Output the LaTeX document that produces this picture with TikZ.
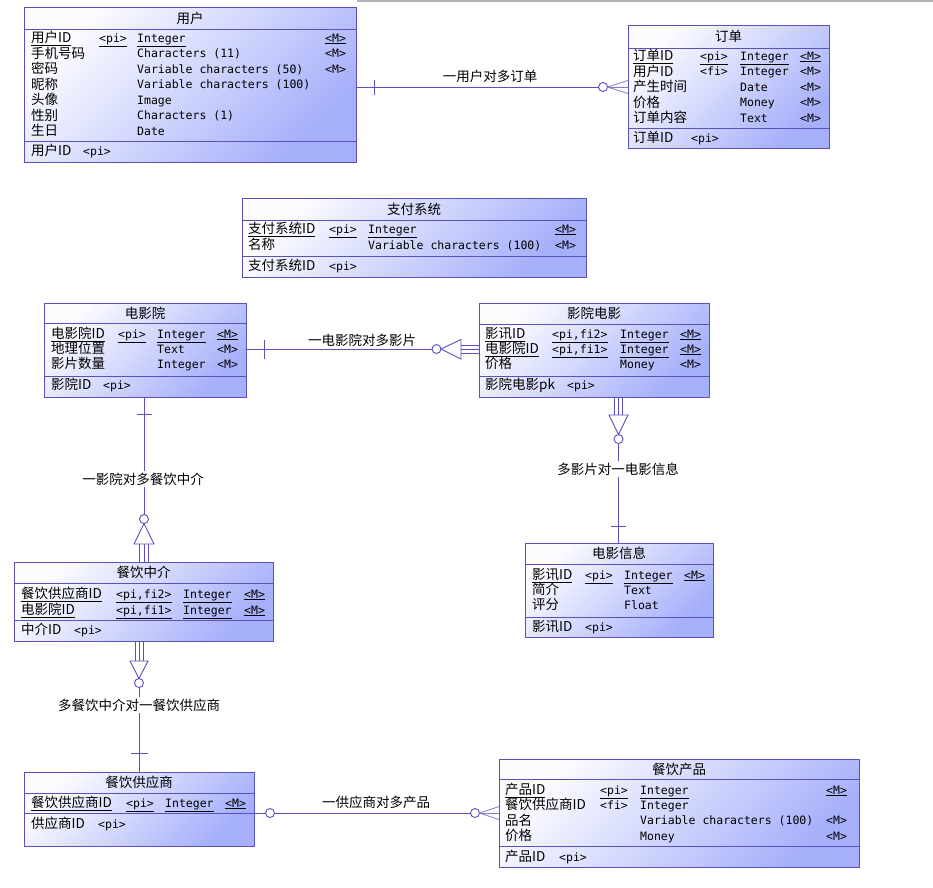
\documentclass[tikz,border=0pt]{standalone}
\usepackage{fontspec}
\newfontfamily\cjkf{Noto Sans CJK SC}
\newfontfamily\monof{DejaVu Sans Mono}
\usetikzlibrary{fit,calc}
\definecolor{bordc}{RGB}{90,80,190}
\definecolor{shA}{RGB}{252,252,255}
\definecolor{shB}{RGB}{165,175,250}
\tikzset{
  entity/.style={draw=bordc, line width=0.9pt, top color=shA, bottom color=shB, shading angle=45, inner sep=0pt, outer sep=0pt},
  sepline/.style={draw=bordc, line width=0.9pt},
  cn/.style={anchor=west, inner sep=0pt, text height=9.5pt, text depth=0pt, font=\cjkf\fontsize{13.5}{13.5}\selectfont},
  mk/.style={anchor=west, inner sep=0pt, text height=8.5pt, text depth=0pt, font=\monof\fontsize{11.5}{11.5}\selectfont},
  ttl/.style={anchor=center, inner sep=0pt, font=\cjkf\fontsize{13.5}{13.5}\selectfont},
  conn/.style={draw=bordc, line width=0.9pt},
  crow/.style={draw=bordc!75, line width=0.8pt},
  circ/.style={circle, draw=bordc, line width=0.9pt, fill=white, minimum size=9pt, inner sep=0pt, outer sep=0pt},
  lbl/.style={fill=white, inner sep=1.5pt, font=\cjkf\fontsize{13.5}{13.5}\selectfont},
}
\newcommand\uln[1]{\underline{#1}}
\newcommand\entity[8]{%
  \coordinate (#1-nw) at (#2,#3);
  \coordinate (#1-se) at (#4,#5);
  \node[entity, fit=(#1-nw)(#1-se)] (#1) {};
  \draw[sepline] (#1.west |- 0,#6) -- (#1.east |- 0,#6);
  \draw[sepline] (#1.west |- 0,#7) -- (#1.east |- 0,#7);
  \node[ttl] (#1-title) at ($(#1-nw)!0.5!(#4,#6)$) {#8};
}
\newcommand\setcols[4]{\def\cxn{#1}\def\cxk{#2}\def\cxt{#3}\def\cxm{#4}}
\newcommand\attrrow[6]{%
  \node[cn] (#1-n) at (\cxn,#2) {#3};
  \ifx\relax#4\relax\else\node[mk] (#1-k) at (\cxk,#2) {#4};\fi
  \ifx\relax#5\relax\else\node[mk] (#1-t) at (\cxt,#2) {#5};\fi
  \ifx\relax#6\relax\else\node[mk] (#1-m) at (\cxm,#2) {#6};\fi
}
\newcommand\keyrow[5]{%
  \node[cn] (#1-kn) at (#2,#4) {#5};
  \node[mk] (#1-kp) at (#3,#4) {<pi>};
}
\begin{document}
\begin{tikzpicture}[x=1pt,y=-1pt]
\useasboundingbox (0,0) rectangle (933,887);
\fill[gray!60] (357,0) rectangle (933,1.5);

% 用户
\entity{user}{24}{7}{356}{162}{29}{141}{用户}
\setcols{31}{99}{137}{325}
\attrrow{u1}{38}{\uln{用户ID}}{\uln{<pi>}}{\uln{Integer}}{\uln{<M>}}
\attrrow{u2}{53.5}{手机号码}{}{Characters (11)}{<M>}
\attrrow{u3}{69}{密码}{}{Variable characters (50)}{<M>}
\attrrow{u4}{84.5}{昵称}{}{Variable characters (100)}{}
\attrrow{u5}{100}{头像}{}{Image}{}
\attrrow{u6}{115.5}{性别}{}{Characters (1)}{}
\attrrow{u7}{131}{生日}{}{Date}{}
\keyrow{user}{31}{83}{151}{用户ID}

% 订单
\entity{order}{628}{25}{829}{148}{48}{128}{订单}
\setcols{633}{700}{740}{800}
\attrrow{o1}{56}{\uln{订单ID}}{\uln{<pi>}}{\uln{Integer}}{\uln{<M>}}
\attrrow{o2}{71.5}{用户ID}{<fi>}{Integer}{<M>}
\attrrow{o3}{87}{产生时间}{}{Date}{<M>}
\attrrow{o4}{102.5}{价格}{}{Money}{<M>}
\attrrow{o5}{118}{订单内容}{}{Text}{<M>}
\keyrow{order}{633}{691}{138}{订单ID}

% 支付系统
\entity{pay}{242}{198}{586}{277}{220}{256}{支付系统}
\setcols{248}{329}{368}{555}
\attrrow{p1}{229}{\uln{支付系统ID}}{\uln{<pi>}}{\uln{Integer}}{\uln{<M>}}
\attrrow{p2}{245}{名称}{}{Variable characters (100)}{<M>}
\keyrow{pay}{248}{329}{266}{支付系统ID}

% 电影院
\entity{cinema}{44}{303}{246}{397}{323}{376}{电影院}
\setcols{51}{118}{157}{217}
\attrrow{c1}{334}{\uln{电影院ID}}{\uln{<pi>}}{\uln{Integer}}{\uln{<M>}}
\attrrow{c2}{349}{地理位置}{}{Text}{<M>}
\attrrow{c3}{364}{影片数量}{}{Integer}{<M>}
\keyrow{cinema}{51}{103}{385}{影院ID}

% 影院电影
\entity{cm}{479}{303}{709}{397}{324}{376}{影院电影}
\setcols{485}{552}{620}{680}
\attrrow{m1}{334}{\uln{影讯ID}}{\uln{<pi,fi2>}}{\uln{Integer}}{\uln{<M>}}
\attrrow{m2}{349}{\uln{电影院ID}}{\uln{<pi,fi1>}}{\uln{Integer}}{\uln{<M>}}
\attrrow{m3}{364}{价格}{}{Money}{<M>}
\keyrow{cm}{485}{567}{385}{影院电影pk}

% 电影信息
\entity{minfo}{525}{543}{713}{637}{564}{617}{电影信息}
\setcols{532}{585}{624}{684}
\attrrow{i1}{575}{\uln{影讯ID}}{\uln{<pi>}}{\uln{Integer}}{\uln{<M>}}
\attrrow{i2}{590}{简介}{}{Text}{}
\attrrow{i3}{605}{评分}{}{Float}{}
\keyrow{minfo}{532}{585}{627}{影讯ID}

% 餐饮中介
\entity{agent}{14}{562}{273}{641}{583}{620}{餐饮中介}
\setcols{21}{116}{183}{244}
\attrrow{a1}{594}{\uln{餐饮供应商ID}}{\uln{<pi,fi2>}}{\uln{Integer}}{\uln{<M>}}
\attrrow{a2}{610}{\uln{电影院ID}}{\uln{<pi,fi1>}}{\uln{Integer}}{\uln{<M>}}
\keyrow{agent}{21}{74}{630}{中介ID}

% 餐饮供应商
\entity{supp}{24}{772}{254}{846}{793}{813}{餐饮供应商}
\setcols{31}{126}{165}{225}
\attrrow{s1}{803}{\uln{餐饮供应商ID}}{\uln{<pi>}}{\uln{Integer}}{\uln{<M>}}
\keyrow{supp}{31}{98}{824}{供应商ID}

% 餐饮产品
\entity{prod}{499}{759}{859}{867}{779}{846}{餐饮产品}
\setcols{505}{600}{640}{826}
\attrrow{r1}{790}{\uln{产品ID}}{\uln{<pi>}}{\uln{Integer}}{\uln{<M>}}
\attrrow{r2}{805}{餐饮供应商ID}{<fi>}{Integer}{}
\attrrow{r3}{820.5}{品名}{}{Variable characters (100)}{<M>}
\attrrow{r4}{836}{价格}{}{Money}{<M>}
\keyrow{prod}{505}{559}{857}{产品ID}

% ---- 用户 - 订单
\node[circ] (k1) at (603,87) {};
\draw[conn] (user.east |- k1) -- (k1.west);
\draw[conn] (374,80) -- (374,95);
\draw[crow] (k1.east) -- (order.west |- 0,80.5);
\draw[crow] (k1.east) -- (order.west |- k1);
\draw[crow] (k1.east) -- (order.west |- 0,93.5);
\node[lbl] (l1) at (490,76) {一用户对多订单};

% ---- 电影院 - 影院电影
\node[circ] (k2) at (436.5,349) {};
\draw[conn] (cinema.east |- k2) -- (k2.west);
\draw[conn] (264,340) -- (264,358.5);
\draw[conn, fill=white] (441,349) -- (461,339.5) -- (461,359) -- cycle;
\draw[conn] (461,345) -- (cm.west |- 0,345);
\draw[conn] (461,349) -- (cm.west |- 0,349);
\draw[conn] (461,353) -- (cm.west |- 0,353);
\node[lbl] (l2) at (362,340) {一电影院对多影片};

% ---- 影院电影 - 电影信息
\node[circ] (k3) at (618.5,439) {};
\draw[conn] (k3.south) -- (minfo.north -| k3);
\draw[conn] (611,526) -- (626,526);
\draw[conn] (614.5,415) -- (cm.south -| 614.5,0);
\draw[conn] (618.5,415) -- (cm.south -| 618.5,0);
\draw[conn] (622.5,415) -- (cm.south -| 622.5,0);
\draw[conn, fill=white] (618.5,434.5) -- (609,415) -- (628,415) -- cycle;
\node[lbl] (l3) at (618,469) {多影片对一电影信息};

% ---- 电影院 - 餐饮中介
\node[circ] (k4) at (144,519) {};
\draw[conn] (cinema.south -| k4) -- (k4.north);
\draw[conn] (136.5,414) -- (152,414);
\draw[conn] (139.5,544) -- (agent.north -| 139.5,0);
\draw[conn] (144,544) -- (agent.north -| 144,0);
\draw[conn] (148.5,544) -- (agent.north -| 148.5,0);
\draw[conn, fill=white] (144,523.5) -- (134,544) -- (154,544) -- cycle;
\node[lbl] (l4) at (143,479) {一影院对多餐饮中介};

% ---- 餐饮中介 - 餐饮供应商
\node[circ] (k5) at (139,683) {};
\draw[conn] (k5.south) -- (supp.north -| k5);
\draw[conn] (131,753) -- (148,753);
\draw[conn] (135,661) -- (agent.south -| 135,0);
\draw[conn] (139,661) -- (agent.south -| 139,0);
\draw[conn] (143,661) -- (agent.south -| 143,0);
\draw[conn, fill=white] (139,678.5) -- (130,661) -- (148,661) -- cycle;
\node[lbl] (l5) at (139,705) {多餐饮中介对一餐饮供应商};

% ---- 餐饮供应商 - 餐饮产品
\node[circ] (k6) at (270,813) {};
\node[circ] (k7) at (475,813) {};
\draw[conn] (supp.east |- k6) -- (k6.west);
\draw[conn] (k6.east) -- (k7.west);
\draw[crow] (k7.east) -- (prod.west |- 0,806.5);
\draw[crow] (k7.east) -- (prod.west |- k7);
\draw[crow] (k7.east) -- (prod.west |- 0,819.5);
\node[lbl] (l6) at (376,802) {一供应商对多产品};
\end{tikzpicture}
\end{document}
